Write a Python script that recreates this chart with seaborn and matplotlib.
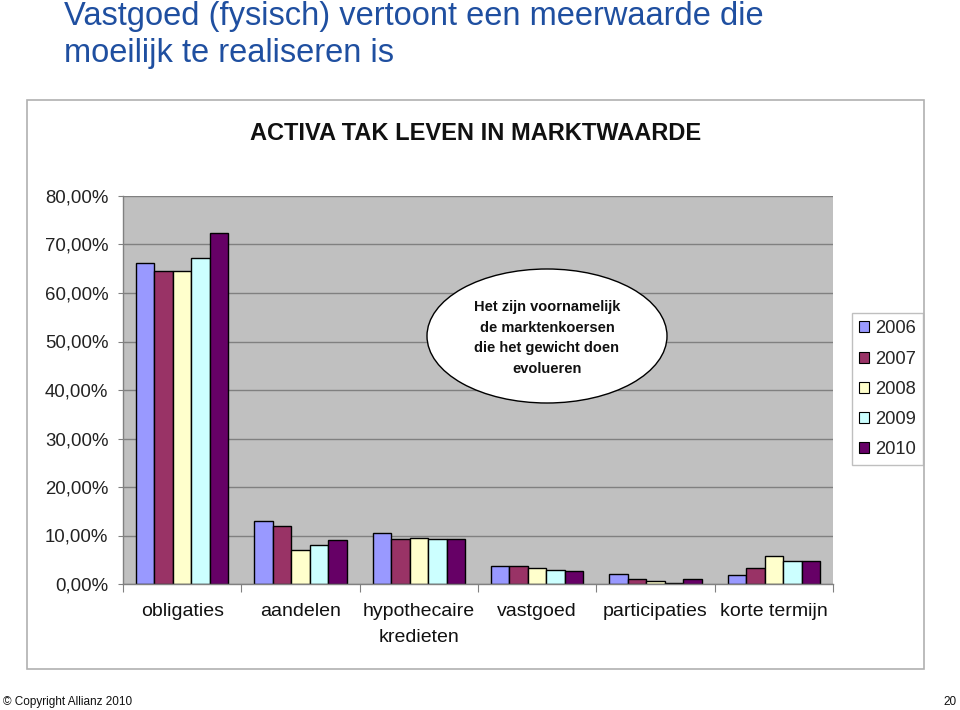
import matplotlib
matplotlib.use("Agg")
import matplotlib.pyplot as plt
from matplotlib.patches import Ellipse, Rectangle, Patch
import seaborn as sns
import pandas as pd

categories = ["obligaties", "aandelen", "hypothecaire\nkredieten", "vastgoed", "participaties", "korte termijn"]
years = ["2006", "2007", "2008", "2009", "2010"]
v2006 = [66.1, 12.9, 10.5, 3.8, 2.1, 1.8]
v2007 = [64.5, 12.0, 9.3, 3.8, 1.1, 3.3]
v2008 = [64.5, 7.1, 9.5, 3.2, 0.6, 5.7]
v2009 = [67.2, 8.1, 9.2, 2.9, 0.3, 4.8]
v2010 = [72.4, 9.0, 9.2, 2.7, 1.1, 4.8]
yticks = [0, 10, 20, 30, 40, 50, 60, 70, 80]
ytick_labels = ["0,00%", "10,00%", "20,00%", "30,00%", "40,00%", "50,00%", "60,00%", "70,00%", "80,00%"]
colors = ["#9999FF", "#993366", "#FFFFCC", "#CCFFFF", "#660066"]

rows = []
for y, vals in zip(years, [v2006, v2007, v2008, v2009, v2010]):
    for c, v in zip(categories, vals):
        rows.append({"cat": c, "year": y, "val": v})
df = pd.DataFrame(rows)

sns.set_theme(style="white")
plt.rcParams['font.family'] = ['Liberation Sans', 'DejaVu Sans']

W, H = 960, 710
fig = plt.figure(figsize=(9.6, 7.1), dpi=100)

def fx(x): return x / W
def fy(y): return 1 - y / H

# outer chart frame
fig.patches.append(Rectangle((fx(27), fy(669)), fx(924) - fx(27), fy(100) - fy(669),
                             transform=fig.transFigure, fill=False, edgecolor="#b0b0b0", lw=1.2))

ax = fig.add_axes([fx(123), fy(584), fx(833) - fx(123), fy(196) - fy(584)])
ax.set_facecolor("#C0C0C0")
sns.barplot(data=df, x="cat", y="val", hue="year", palette=colors, order=categories,
            hue_order=years, width=0.78, edgecolor="black", linewidth=1.0, ax=ax,
            legend=False, saturation=1)
ax.set_ylim(0, 80)
ax.set_xlim(-0.5, len(categories) - 0.5)
ax.set_yticks(yticks)
ax.set_yticklabels(ytick_labels, fontsize=13.4, color="#222222")
ax.yaxis.grid(True, color="#808080", lw=1.0)
ax.set_axisbelow(True)
ax.tick_params(axis="y", direction="out", length=3.5, width=0.8, color="#808080", pad=7, left=True)
ax.set_xticks(range(len(categories)))
ax.set_xticklabels(categories, fontsize=14, color="#111111", linespacing=1.65)
ax.tick_params(axis="x", length=0, pad=14)
ax.set_xticks([i - 0.5 for i in range(len(categories) + 1)], minor=True)
ax.tick_params(axis="x", which="minor", direction="out", length=6, width=0.8, color="#808080", bottom=True)
ax.set_xlabel("")
ax.set_ylabel("")
for s in ["top", "right"]:
    ax.spines[s].set_visible(False)
for s in ["left", "bottom"]:
    ax.spines[s].set_color("#808080")
    ax.spines[s].set_linewidth(1.0)

# legend
handles = [Patch(facecolor=c, edgecolor="black", lw=0.8, label=y) for c, y in zip(colors, years)]
leg = fig.legend(handles=handles, loc="upper left", bbox_to_anchor=(fx(852), fy(313)),
                 fontsize=13.2, frameon=True, fancybox=False, handlelength=0.55, handleheight=0.55,
                 handletextpad=0.3, labelspacing=0.72, borderpad=0.4, borderaxespad=0)
leg.get_frame().set_edgecolor("#b0b0b0")
leg.get_frame().set_facecolor("white")
leg.get_frame().set_linewidth(1.0)

# ellipse annotation
fig.patches.append(Ellipse((fx(547), fy(336)), fx(667) - fx(427), fy(269) - fy(403),
                           transform=fig.transFigure, facecolor="white", edgecolor="black", lw=1.0))
fig.text(fx(547), fy(338), "Het zijn voornamelijk\nde marktenkoersen\ndie het gewicht doen\nevolueren",
         ha="center", va="center", fontsize=10.5, fontweight="bold", linespacing=1.6,
         family=['Liberation Sans Narrow', 'Liberation Sans', 'DejaVu Sans'], color="#111111")

# titles
fig.text(fx(476), fy(133), "ACTIVA TAK LEVEN IN MARKTWAARDE", ha="center", va="center",
         fontsize=17, fontweight="bold", color="#111111")
fig.text(fx(64), fy(35), "Vastgoed (fysisch) vertoont een meerwaarde die\nmoeilijk te realiseren is",
         ha="left", va="center", fontsize=23.5, color="#1F4FA0", linespacing=1.25)

# footer
fig.text(fx(3), fy(702), "© Copyright Allianz 2010", ha="left", va="center", fontsize=8.5, color="#111111")
fig.text(fx(957), fy(702), "20", ha="right", va="center", fontsize=8.5, color="#111111")

fig.savefig("out.png", dpi=100)
